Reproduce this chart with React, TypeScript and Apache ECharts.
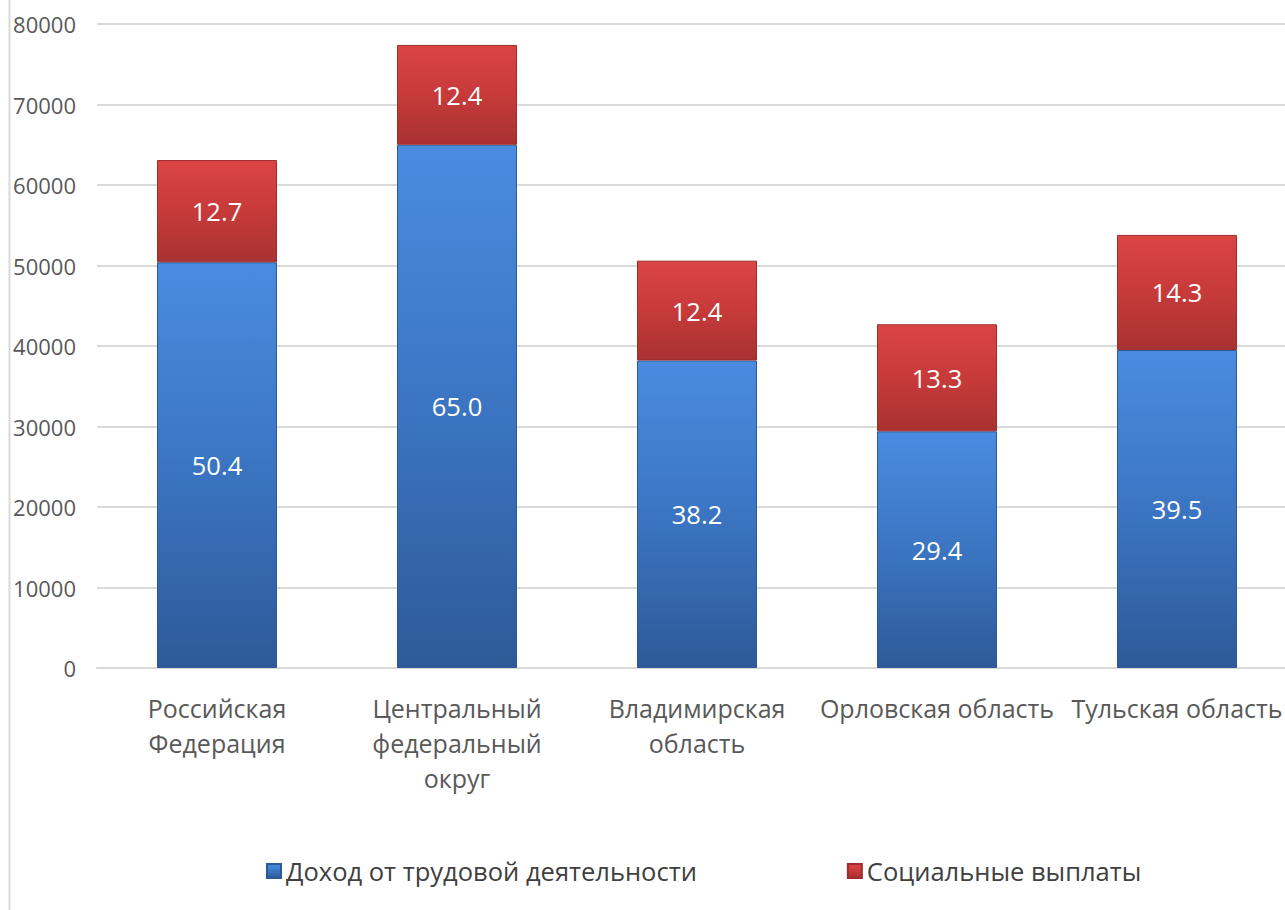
import React, { useEffect, useRef } from "react";
import * as echarts from "echarts";

const categories = [
  "Российская\nФедерация",
  "Центральный\nфедеральный\nокруг",
  "Владимирская\nобласть",
  "Орловская область",
  "Тульская область",
];
const laborIncome = [50400, 65000, 38200, 29400, 39500];
const socialPayments = [12700, 12400, 12400, 13300, 14300];
const seriesNames = ["Доход от трудовой деятельности", "Социальные выплаты"];

const FONT = "'Open Sans', 'Noto Sans', sans-serif";

const blueGrad = new echarts.graphic.LinearGradient(0, 0, 0, 1, [
  { offset: 0, color: "#4a8ce0" },
  { offset: 0.5, color: "#3b75c2" },
  { offset: 1, color: "#2e5a98" },
]);
const redGrad = new echarts.graphic.LinearGradient(0, 0, 0, 1, [
  { offset: 0, color: "#dc4444" },
  { offset: 0.5, color: "#c73a3a" },
  { offset: 1, color: "#a93131" },
]);

export default function App() {
  const ref = useRef<HTMLDivElement>(null);
  useEffect(() => {
    document.body.style.margin = "0";
    document.body.style.overflow = "hidden";
    const chart = echarts.init(ref.current!, null, { renderer: "svg" });
    const labelFmt = (p: any) => (p.value / 1000).toFixed(1);
    chart.setOption({
      animation: false,
      backgroundColor: "#ffffff",
      grid: { left: 97, right: 0, top: 24, bottom: 242, containLabel: false },
      legend: {
        left: 261,
        top: 853,
        itemWidth: 14,
        itemHeight: 14,
        itemGap: 150,
        icon: "rect",
        textStyle: { fontFamily: FONT, fontSize: 25.5, color: "#404040" },
        data: seriesNames,
      },
      xAxis: {
        type: "category",
        data: categories,
        axisLine: { lineStyle: { color: "#d9d9d9", width: 2 } },
        axisTick: { show: false },
        axisLabel: {
          interval: 0,
          margin: 22,
          fontFamily: FONT,
          fontSize: 25,
          lineHeight: 35,
          color: "#595959",
        },
      },
      yAxis: {
        type: "value",
        min: 0,
        max: 80000,
        interval: 10000,
        axisLine: { show: false },
        axisTick: { show: false },
        splitLine: { lineStyle: { color: "#d9d9d9", width: 2 } },
        axisLabel: {
          margin: 21,
          fontFamily: FONT,
          fontSize: 22,
          color: "#595959",
          formatter: (v: number) => String(v),
        },
      },
      series: [
        {
          name: seriesNames[0],
          type: "bar",
          stack: "total",
          barWidth: 120,
          data: laborIncome,
          itemStyle: { color: blueGrad, borderColor: "#2d5a96", borderWidth: 1 },
          label: {
            show: true,
            position: "inside",
            formatter: labelFmt,
            color: "#ffffff",
            fontFamily: FONT,
            fontSize: 25.5,
          },
        },
        {
          name: seriesNames[1],
          type: "bar",
          stack: "total",
          barWidth: 120,
          data: socialPayments,
          itemStyle: { color: redGrad, borderColor: "#9e2e2e", borderWidth: 1 },
          label: {
            show: true,
            position: "inside",
            formatter: labelFmt,
            color: "#ffffff",
            fontFamily: FONT,
            fontSize: 25.5,
          },
        },
      ],
      graphic: [
        {
          type: "line",
          shape: { x1: 9.5, y1: 0, x2: 9.5, y2: 910 },
          style: { stroke: "#d9d9d9", lineWidth: 2 },
        },
      ],
    });
    return () => chart.dispose();
  }, []);
  return (
    <div style={{ width: 1285, height: 910, overflow: "hidden", position: "relative" }}>
      <div ref={ref} style={{ width: 1297, height: 910 }} />
    </div>
  );
}
